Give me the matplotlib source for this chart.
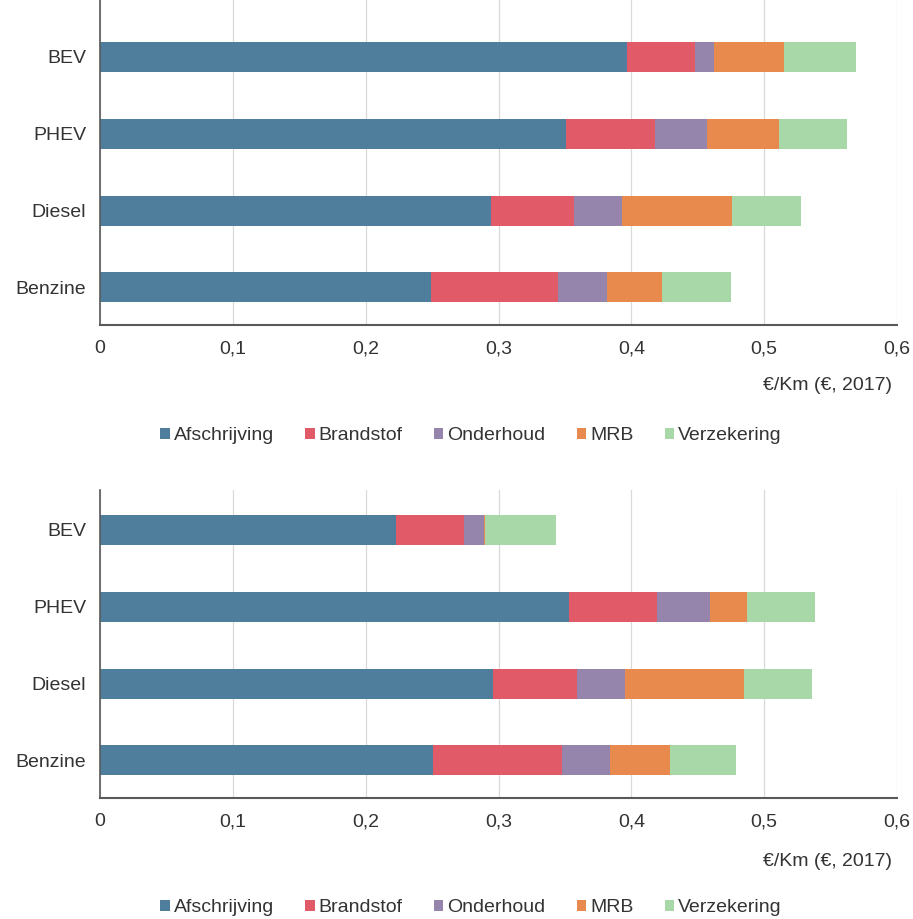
import matplotlib
matplotlib.use("Agg")
import matplotlib.pyplot as plt
import numpy as np

plt.rcParams['font.family'] = ['Liberation Sans', 'DejaVu Sans']

categories = ["Benzine", "Diesel", "PHEV", "BEV"]
components = ["Afschrijving", "Brandstof", "Onderhoud", "MRB", "Verzekering"]
colors = ["#4f7d9c", "#e05a67", "#9585ad", "#e88a4e", "#a8d8a8"]

# top chart (Benzine, Diesel, PHEV, BEV)
top_afschrijving = [0.249, 0.294, 0.351, 0.397]
top_brandstof = [0.096, 0.063, 0.067, 0.051]
top_onderhoud = [0.037, 0.036, 0.039, 0.014]
top_mrb = [0.041, 0.083, 0.054, 0.053]
top_verzekering = [0.052, 0.052, 0.051, 0.054]

# bottom chart
bot_afschrijving = [0.251, 0.296, 0.353, 0.223]
bot_brandstof = [0.097, 0.063, 0.066, 0.051]
bot_onderhoud = [0.036, 0.036, 0.040, 0.015]
bot_mrb = [0.045, 0.090, 0.028, 0.001]
bot_verzekering = [0.050, 0.051, 0.051, 0.053]

xticks = [0, 0.1, 0.2, 0.3, 0.4, 0.5, 0.6]
xticklabels = ["0", "0,1", "0,2", "0,3", "0,4", "0,5", "0,6"]
xlabel = "€/Km (€, 2017)"

text_color = "#333333"
fs = 14

fig = plt.figure(figsize=(9.13, 9.19), dpi=100)
W, H = 913, 919

def make_ax(top_px, bottom_px, series, ylim):
    left, right = 100, 897
    ax = fig.add_axes([left / W, 1 - bottom_px / H, (right - left) / W, (bottom_px - top_px) / H])
    y = np.arange(len(categories))
    cum = np.zeros(len(categories))
    handles = []
    for name, vals, c in zip(components, series, colors):
        h = ax.barh(y, vals, left=cum, height=0.39, color=c, label=name, edgecolor='none')
        cum += np.array(vals)
        handles.append(h)
    ax.set_xlim(0, 0.6)
    ax.set_ylim(*ylim)
    ax.set_yticks(y)
    ax.set_yticklabels(categories, fontsize=fs, color=text_color)
    ax.set_xticks(xticks)
    ax.set_xticklabels(xticklabels, fontsize=fs, color=text_color)
    ax.tick_params(axis='both', length=0, pad=11)
    ax.tick_params(axis='y', pad=10)
    ax.grid(axis='x', color='#d9d9d9', linewidth=0.9)
    ax.set_axisbelow(True)
    for s in ['top', 'right']:
        ax.spines[s].set_visible(False)
    ax.spines['left'].set_color('#595959')
    ax.spines['bottom'].set_color('#595959')
    ax.spines['left'].set_linewidth(1.2)
    ax.spines['bottom'].set_linewidth(1.5)
    return ax, handles

ax1, h1 = make_ax(0, 325, [top_afschrijving, top_brandstof, top_onderhoud, top_mrb, top_verzekering], (-0.49, 3.74))
ax2, h2 = make_ax(490, 798, [bot_afschrijving, bot_brandstof, bot_onderhoud, bot_mrb, bot_verzekering], (-0.49, 3.52))

fig.text(892 / W, 1 - 385 / H, xlabel, ha='right', va='center', fontsize=fs, color=text_color)
fig.text(892 / W, 1 - 861 / H, xlabel, ha='right', va='center', fontsize=fs, color=text_color)

for handles, ypx in [(h1, 436), (h2, 908)]:
    fig.legend(handles, components, loc='center', bbox_to_anchor=(471 / W, 1 - ypx / H),
               ncol=5, frameon=False, fontsize=fs, handlelength=0.5, handleheight=0.5,
               handletextpad=0.2, columnspacing=1.6, labelcolor=text_color)

fig.savefig("out.png", dpi=100, facecolor='white')
